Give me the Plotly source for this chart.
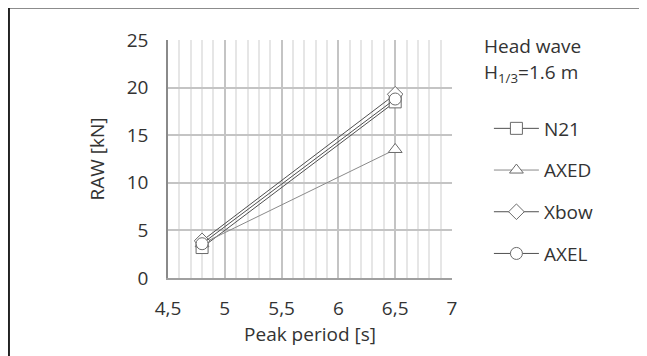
import plotly.graph_objects as go

periods = [4.8, 6.5]
n21 = [3.2, 18.5]
axed = [3.6, 13.5]
xbow = [3.9, 19.3]
axel = [3.6, 18.8]

series = [
    ("N21", n21, "square", "#505050"),
    ("AXED", axed, "triangle-up", "#8a8a8a"),
    ("Xbow", xbow, "diamond", "#505050"),
    ("AXEL", axel, "circle", "#505050"),
]

font = "'Open Sans', sans-serif"
fig = go.Figure()
for i, (name, vals, sym, col) in enumerate(series):
    fig.add_trace(go.Scatter(
        x=periods, y=vals, name=name, mode="lines+markers",
        legendgroup=str(i),
        line=dict(color=col, width=1),
        marker=dict(symbol=sym, size=12, color="white",
                    line=dict(color="#6a6a6a", width=1)),
    ))

# page is offset by the 8px body margin; figure sized to fit the window
fig.update_layout(
    width=639, height=348,
    margin=dict(l=160, r=195, t=32, b=78),
    paper_bgcolor="white", plot_bgcolor="white",
    separators=",.",
    font=dict(family=font, size=19, color="#333333"),
    showlegend=True,
    legend=dict(x=1.13, xanchor="left", y=0.708, yanchor="top",
                tracegroupgap=14, itemwidth=45,
                font=dict(size=19, color="#333333"),
                bgcolor="rgba(0,0,0,0)"),
    xaxis=dict(range=[4.5, 7], dtick=0.5, tick0=4.5,
               showgrid=True, gridcolor="#c4c4c4", gridwidth=1.5,
               minor=dict(dtick=0.1, showgrid=True, gridcolor="#e6e6e6", gridwidth=1.5),
               showline=True, linecolor="#a0a0a0", linewidth=1.5,
               ticks="outside", ticklen=12, tickcolor="rgba(0,0,0,0)",
               zeroline=False,
               title=dict(text="Peak period [s]", standoff=7, font=dict(size=19))),
    yaxis=dict(range=[0, 25], dtick=5,
               showgrid=True, gridcolor="#c4c4c4", gridwidth=1.5,
               showline=True, linecolor="#8a8a8a", linewidth=1.5,
               ticks="outside", ticklen=14, tickcolor="rgba(0,0,0,0)",
               zeroline=False,
               title=dict(text="RAW [kN]", standoff=17, font=dict(size=19))),
    annotations=[
        dict(xref="paper", yref="paper", x=1.107, y=0.975, xanchor="left", yanchor="middle",
             text="Head wave", showarrow=False, font=dict(size=19, color="#333333")),
        dict(xref="paper", yref="paper", x=1.107, y=0.861, xanchor="left", yanchor="middle",
             text="H<sub>1/3</sub>=1.6 m", showarrow=False, font=dict(size=19, color="#333333")),
    ],
    shapes=[
        dict(type="line", xref="paper", yref="paper", x0=-0.56, x1=1.7, y0=1.134, y1=1.134,
             line=dict(color="#8c8c8c", width=2)),
        dict(type="line", xref="paper", yref="paper", x0=-0.56, x1=-0.56, y0=1.134, y1=-0.33,
             line=dict(color="#222222", width=2)),
    ],
)

fig.write_html("out.html")
